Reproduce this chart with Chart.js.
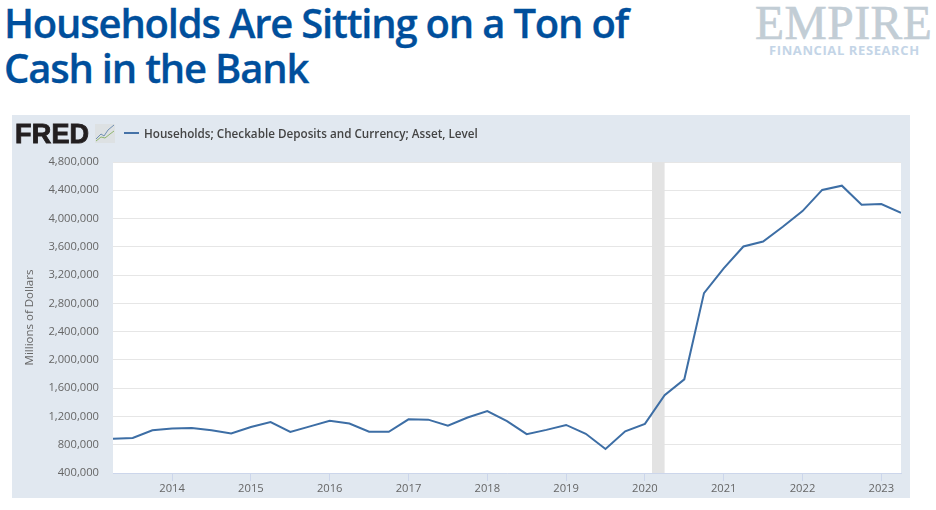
<!DOCTYPE html>
<html>
<head>
<meta charset="utf-8">
<title>Households Are Sitting on a Ton of Cash in the Bank</title>
<script src="https://cdn.jsdelivr.net/npm/chart.js@4"></script>
<style>
  html, body { margin:0; padding:0; background:#fff; }
  body { width:936px; height:510px; position:relative; overflow:hidden; font-family:'Open Sans',sans-serif; }
  h1 { position:absolute; left:4px; top:0; margin:0; font-size:40px; line-height:45px; font-weight:600; color:#004f9c; letter-spacing:-1.2px; white-space:nowrap; -webkit-text-stroke:0.3px #004f9c; }
  .logo1 { position:absolute; left:755px; top:-1px; font-family:'Liberation Serif',serif; font-size:47.5px; line-height:48px; color:#c2cdd5; white-space:nowrap; letter-spacing:0.5px; -webkit-text-stroke:0.6px #c2cdd5; }
  .logo2 { position:absolute; left:769px; top:42px; font-size:13px; line-height:16px; font-weight:700; color:#c4d5e7; white-space:nowrap; letter-spacing:0.6px; }
  .wrap { position:absolute; left:12px; top:115px; width:898px; height:383px; }
  .fred { position:absolute; left:15px; top:119px; font-family:'Liberation Sans',sans-serif; font-size:27px; line-height:30px; font-weight:700; color:#231f20; letter-spacing:0.2px; -webkit-text-stroke:0.9px #231f20; }
  .spark { position:absolute; left:95px; top:124px; }
  .swatch { position:absolute; left:124px; top:132px; width:15px; height:2px; background:#4572a7; }
  .legend { position:absolute; left:144px; top:125px; font-size:11.7px; line-height:17px; font-weight:600; color:#444; white-space:nowrap; }
</style>
</head>
<body>
<h1>Households Are Sitting on a Ton of<br>Cash in the Bank</h1>
<div class="logo1">EMPIRE</div>
<div class="logo2">FINANCIAL RESEARCH</div>
<div class="wrap"><canvas id="chart" width="898" height="383"></canvas></div>
<div class="fred">FRED</div>
<svg class="spark" width="20" height="19">
  <rect width="20" height="19" fill="#dde1e3"/>
  <polyline points="1,15 6,10 9,12 13,6 19,1" fill="none" stroke="#6f8fb3" stroke-width="1"/>
  <polyline points="1,17 6,13 10,14 15,10 19,7" fill="none" stroke="#8fb56f" stroke-width="1"/>
</svg>
<div class="swatch"></div>
<div class="legend">Households; Checkable Deposits and Currency; Asset, Level</div>
<script>
const seriesName = 'Households; Checkable Deposits and Currency; Asset, Level';
const quarters = [
  '2013-Q2','2013-Q3','2013-Q4',
  '2014-Q1','2014-Q2','2014-Q3','2014-Q4',
  '2015-Q1','2015-Q2','2015-Q3','2015-Q4',
  '2016-Q1','2016-Q2','2016-Q3','2016-Q4',
  '2017-Q1','2017-Q2','2017-Q3','2017-Q4',
  '2018-Q1','2018-Q2','2018-Q3','2018-Q4',
  '2019-Q1','2019-Q2','2019-Q3','2019-Q4',
  '2020-Q1','2020-Q2','2020-Q3','2020-Q4',
  '2021-Q1','2021-Q2','2021-Q3','2021-Q4',
  '2022-Q1','2022-Q2','2022-Q3','2022-Q4',
  '2023-Q1','2023-Q2'
];
const deposits = [
  885000, 895000, 1005000,
  1030000, 1035000, 1005000, 960000,
  1050000, 1120000, 980000, 1060000,
  1140000, 1100000, 985000, 983000,
  1160000, 1155000, 1070000, 1185000,
  1275000, 1135000, 950000, 1010000,
  1080000, 955000, 740000, 990000,
  1095000, 1500000, 1725000, 2945000,
  3295000, 3605000, 3675000, 3885000,
  4105000, 4405000, 4465000, 4195000,
  4205000, 4080000
];
const yearTicks = [2014, 2015, 2016, 2017, 2018, 2019, 2020, 2021, 2022, 2023];
const valueTicks = [400000, 800000, 1200000, 1600000, 2000000, 2400000, 2800000, 3200000, 3600000, 4000000, 4400000, 4800000];
const recession = [2020.09, 2020.25];

// '2014-Q1' -> 2014, '2014-Q2' -> 2014.25 ...
function toYear(q){
  const [y, n] = q.split('-Q');
  return Number(y) + (Number(n) - 1) / 4;
}

const fredBackdrop = {
  id: 'fredBackdrop',
  beforeDraw(chart){
    const { ctx, chartArea: a } = chart;
    ctx.save();
    ctx.fillStyle = '#e1e8f0';
    ctx.fillRect(0, 0, chart.width, chart.height);
    ctx.fillStyle = '#fff';
    ctx.fillRect(a.left, a.top, a.right - a.left, a.bottom - a.top);
    ctx.restore();
  },
  beforeDatasetsDraw(chart){
    const { ctx, chartArea: a, scales } = chart;
    const x0 = scales.x.getPixelForValue(recession[0]);
    const x1 = scales.x.getPixelForValue(recession[1]);
    ctx.save();
    ctx.fillStyle = '#e3e3e3';
    ctx.fillRect(x0, a.top, x1 - x0, a.bottom - a.top);
    ctx.restore();
  }
};

new Chart(document.getElementById('chart'), {
  type: 'line',
  plugins: [fredBackdrop],
  data: {
    datasets: [{
      label: seriesName,
      data: quarters.map((q, i) => ({ x: toYear(q), y: deposits[i] })),
      borderColor: '#3d6ea5',
      borderWidth: 2,
      pointRadius: 0,
      tension: 0
    }]
  },
  options: {
    responsive: false,
    animation: false,
    layout: { padding: { top: 47, right: 9, left: 0, bottom: 0 } },
    plugins: { legend: { display: false }, tooltip: { enabled: false } },
    scales: {
      x: {
        type: 'linear',
        min: toYear(quarters[0]),
        max: toYear(quarters[quarters.length - 1]),
        afterBuildTicks: s => { s.ticks = yearTicks.map(v => ({ value: v })); },
        afterFit: s => { s.height = 25; },
        grid: { drawOnChartArea: false, drawTicks: true, tickLength: 8, color: '#ccd6eb' },
        border: { color: '#ccd6eb', width: 1 },
        ticks: {
          autoSkip: false, maxRotation: 0, padding: 1,
          color: '#666', font: { family: 'Open Sans', size: 11.2 },
          callback: v => String(v)
        }
      },
      y: {
        min: valueTicks[0],
        max: valueTicks[valueTicks.length - 1],
        afterBuildTicks: s => { s.ticks = valueTicks.map(v => ({ value: v })); },
        afterFit: s => { s.width = 101; },
        grid: { color: '#e6e6e6', drawTicks: false, lineWidth: 1 },
        border: { display: false },
        title: {
          display: true, text: 'Millions of Dollars',
          color: '#666', font: { family: 'Open Sans', size: 11.5 },
          padding: { top: 11, bottom: 0 }
        },
        ticks: {
          padding: 14, color: '#666', font: { family: 'Open Sans', size: 11.2 },
          callback: v => v.toLocaleString('en-US')
        }
      }
    }
  }
});
</script>
</body>
</html>
